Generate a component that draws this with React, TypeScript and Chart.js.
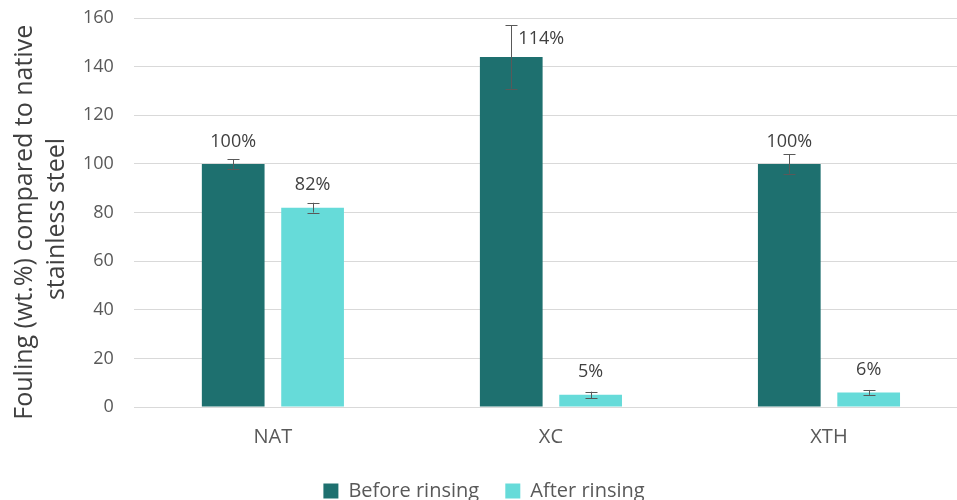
import React, { useEffect, useRef } from "react";
import { Chart, registerables } from "chart.js";

Chart.register(...registerables);

const categories = ["NAT", "XC", "XTH"];
const beforeValues = [100, 144, 100];
const afterValues = [82, 5, 6];
const beforeErrors = [2, 13, 4];
const afterErrors = [2, 1.3, 1];
const beforeLabels = ["100%", "114%", "100%"];
const afterLabels = ["82%", "5%", "6%"];
const yTicks = [0, 20, 40, 60, 80, 100, 120, 140, 160];

// label offsets (style only)
const beforeLabelDx = [0, 30, 0];
const beforeLabelDy = [0, 4, 0];

const FONT = "'Open Sans', sans-serif";

const errorAndLabelPlugin = {
  id: "errorAndLabel",
  afterDatasetsDraw(chart: any) {
    const ctx = chart.ctx;
    const yScale = chart.scales.y;
    const errs = [beforeErrors, afterErrors];
    const labels = [beforeLabels, afterLabels];
    chart.data.datasets.forEach((ds: any, di: number) => {
      const meta = chart.getDatasetMeta(di);
      meta.data.forEach((bar: any, i: number) => {
        const v = ds.data[i];
        const e = errs[di][i];
        const yTop = yScale.getPixelForValue(v + e);
        const yBot = yScale.getPixelForValue(v - e);
        const x = Math.round(bar.x) + 0.5;
        ctx.save();
        ctx.strokeStyle = "#595959";
        ctx.lineWidth = 1;
        ctx.beginPath();
        ctx.moveTo(x, yTop);
        ctx.lineTo(x, yBot);
        ctx.moveTo(x - 6, Math.round(yTop) + 0.5);
        ctx.lineTo(x + 6, Math.round(yTop) + 0.5);
        ctx.moveTo(x - 6, Math.round(yBot) + 0.5);
        ctx.lineTo(x + 6, Math.round(yBot) + 0.5);
        ctx.stroke();
        ctx.restore();
      });
    });
    chart.data.datasets.forEach((ds: any, di: number) => {
      const meta = chart.getDatasetMeta(di);
      meta.data.forEach((bar: any, i: number) => {
        const dx = di === 0 ? beforeLabelDx[i] : 0;
        const dy = di === 0 ? beforeLabelDy[i] : 0;
        ctx.save();
        ctx.font = `18px ${FONT}`;
        ctx.fillStyle = "#404040";
        ctx.textAlign = "center";
        ctx.textBaseline = "middle";
        ctx.fillText(labels[di][i], bar.x + dx, bar.y - 22.5 + dy);
        ctx.restore();
      });
    });
  },
};

export default function App() {
  const ref = useRef<HTMLCanvasElement>(null);
  useEffect(() => {
    if (!ref.current) return;
    const chart = new Chart(ref.current, {
      type: "bar",
      data: {
        labels: categories,
        datasets: [
          {
            label: "Before rinsing ",
            data: beforeValues,
            backgroundColor: "#1e706f",
            categoryPercentage: 0.571,
            barPercentage: 0.79,
          },
          {
            label: "After rinsing",
            data: afterValues,
            backgroundColor: "#66dbd9",
            categoryPercentage: 0.571,
            barPercentage: 0.79,
          },
        ],
      },
      options: {
        animation: false,
        responsive: true,
        maintainAspectRatio: false,
        layout: { padding: { top: 18, right: 8, left: 0, bottom: -11 } },
        plugins: {
          tooltip: { enabled: false },
          legend: {
            position: "bottom",
            labels: {
              boxWidth: 15,
              boxHeight: 15,
              padding: 21,
              color: "#595959",
              font: { family: FONT, size: 20 },
            },
          },
        },
        scales: {
          x: {
            grid: { display: false },
            border: { display: false },
            ticks: {
              color: "#595959",
              font: { family: FONT, size: 20, lineHeight: 0.55 },
              padding: 17,
            },
          },
          y: {
            min: 0,
            max: 160,
            afterBuildTicks: (s: any) => {
              s.ticks = yTicks.map((v) => ({ value: v }));
            },
            afterFit: (s: any) => {
              s.width -= 19;
              s.paddingTop = 0;
              s.paddingBottom = 0;
            },
            grid: { color: "#d9d9d9", lineWidth: 1, drawTicks: false },
            border: { display: false },
            ticks: {
              color: "#595959",
              font: { family: FONT, size: 18 },
              padding: 20,
            },
            title: {
              display: true,
              text: ["Fouling (wt.%) compared to native   ", "stainless steel  "],
              color: "#404040",
              font: { family: FONT, size: 25, lineHeight: 1.28 },
              padding: { top: 9, bottom: 9 },
            },
          },
        },
      },
      plugins: [errorAndLabelPlugin],
    });
    return () => chart.destroy();
  }, []);
  return (
    <div
      style={{
        position: "fixed",
        left: 0,
        top: 0,
        width: 957,
        height: 500,
        overflow: "hidden",
        background: "#fff",
      }}
    >
      <div style={{ position: "relative", width: 976, height: 500 }}>
        <canvas ref={ref} />
      </div>
    </div>
  );
}
